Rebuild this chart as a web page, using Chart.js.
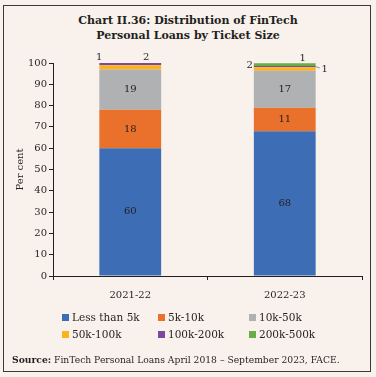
<!DOCTYPE html>
<html>
<head>
<meta charset="utf-8">
<script src="https://cdn.jsdelivr.net/npm/chart.js@4.4.0/dist/chart.umd.min.js"></script>
<style>
  html, body { margin: 0; padding: 0; }
  body { width: 376px; height: 377px; background: #f8f1ec; position: relative; overflow: hidden; font-family: "DejaVu Serif", serif; color: #231f20; }
  #marco { position: absolute; left: 3px; top: 5px; width: 366px; height: 365px; border: 1.5px solid #3a3a3a; }
  #titulo { position: absolute; left: 0; width: 376px; top: 13px; text-align: center; font-weight: bold; font-size: 11px; line-height: 15px; }
  #grafico { position: absolute; left: 0; top: 0; }
  #leyenda { position: absolute; left: 62px; top: 311px; display: grid; grid-template-columns: 96px 91px 100px; row-gap: 5px; font-size: 10.5px; }
  #leyenda div { display: flex; align-items: center; white-space: nowrap; }
  #leyenda span { display: inline-block; width: 7px; height: 7px; margin-right: 3px; }
  #fuente { position: absolute; left: 12px; top: 354px; font-size: 9.2px; white-space: nowrap; }
</style>
</head>
<body>
<div id="marco"></div>
<div id="titulo">Chart II.36: Distribution of FinTech<br>Personal Loans by Ticket Size</div>
<canvas id="grafico" width="376" height="377"></canvas>
<div id="leyenda"></div>
<div id="fuente"><b>Source:</b> FinTech Personal Loans April 2018 – September 2023, FACE.</div>
<script>
// ===== Datos =====
const categorias = ['2021-22', '2022-23'];
const tramos = ['Less than 5k', '5k-10k', '10k-50k', '50k-100k', '100k-200k', '200k-500k'];
const menos5k = [60, 68];
const de5a10k = [18, 11];
const de10a50k = [19, 17.4];
const de50a100k = [2, 1.6];
const de100a200k = [1, 0.6];
const de200a500k = [0, 1.3];
const ticksY = [0, 10, 20, 30, 40, 50, 60, 70, 80, 90, 100];

const colores = ['#3d6eb5', '#e9712b', '#b0b1b3', '#fdb41b', '#7b4a9e', '#69ad47'];
const series = [menos5k, de5a10k, de10a50k, de50a100k, de100a200k, de200a500k];

// etiquetas dentro de la barra solo para los tramos grandes
const dentro = [true, true, true, false, false, false];
// etiquetas fuera: [serie, categoria, dx, dy, guia]
const fuera = [
    [4, 0, -31, -6, false],
    [3, 0, 16, -8, false],
    [3, 1, -35, -2, false],
    [5, 1, 18, -5, false],
    [4, 1, 40, 3, true]
];

// ===== Leyenda =====
const ley = document.getElementById('leyenda');
tramos.forEach((t, i) => {
    const d = document.createElement('div');
    d.innerHTML = `<span style="background:${colores[i]}"></span>${t}`;
    ley.appendChild(d);
});

const fuente = '"DejaVu Serif", serif';

const etiquetas = {
    id: 'etiquetas',
    afterDatasetsDraw(chart) {
        const ctx = chart.ctx;
        ctx.save();
        ctx.font = `10px ${fuente}`;
        ctx.fillStyle = '#231f20';
        ctx.textAlign = 'center';
        ctx.textBaseline = 'middle';
        series.forEach((s, si) => {
            if (!dentro[si]) return;
            chart.getDatasetMeta(si).data.forEach((bar, ci) => {
                ctx.fillText(Math.round(s[ci]), bar.x, (bar.y + bar.base) / 2);
            });
        });
        fuera.forEach(([si, ci, dx, dy, guia]) => {
            const bar = chart.getDatasetMeta(si).data[ci];
            const x = bar.x + dx, y = bar.y + dy;
            ctx.fillText(Math.round(series[si][ci]), x, y);
            if (guia) {
                const der = bar.x + bar.width / 2;
                const my = (bar.y + bar.base) / 2;
                ctx.strokeStyle = '#777';
                ctx.lineWidth = 0.8;
                ctx.beginPath();
                ctx.moveTo(der, my);
                ctx.lineTo(x - 5, y - 1);
                ctx.stroke();
            }
        });
        ctx.restore();
    }
};

new Chart(document.getElementById('grafico'), {
    type: 'bar',
    data: {
        labels: categorias,
        datasets: series.map((s, i) => ({
            label: tramos[i],
            data: s,
            backgroundColor: colores[i],
            borderWidth: 0,
            barPercentage: 0.4,
            categoryPercentage: 1
        }))
    },
    options: {
        responsive: false,
        animation: false,
        layout: { padding: { left: 10, top: 63, right: 14, bottom: 71 } },
        plugins: { legend: { display: false }, tooltip: { enabled: false } },
        scales: {
            x: {
                stacked: true,
                afterFit: s => { s.height = 30; },
                grid: { offset: true, drawOnChartArea: false, tickLength: 4, color: '#231f20' },
                border: { color: '#231f20', width: 1 },
                ticks: { color: '#231f20', font: { family: fuente, size: 10 }, padding: 9 }
            },
            y: {
                stacked: true,
                min: 0,
                max: 100,
                afterFit: s => { s.width = 43; },
                afterBuildTicks: s => { s.ticks = ticksY.map(v => ({ value: v })); },
                grid: { drawOnChartArea: false, tickLength: 4, color: '#231f20' },
                border: { color: '#231f20', width: 1 },
                ticks: { color: '#231f20', font: { family: fuente, size: 10 }, padding: 2 },
                title: { display: true, text: 'Per cent', color: '#231f20', font: { family: fuente, size: 10 }, padding: { top: 4, bottom: 4 } }
            }
        }
    },
    plugins: [etiquetas]
});
</script>
</body>
</html>
